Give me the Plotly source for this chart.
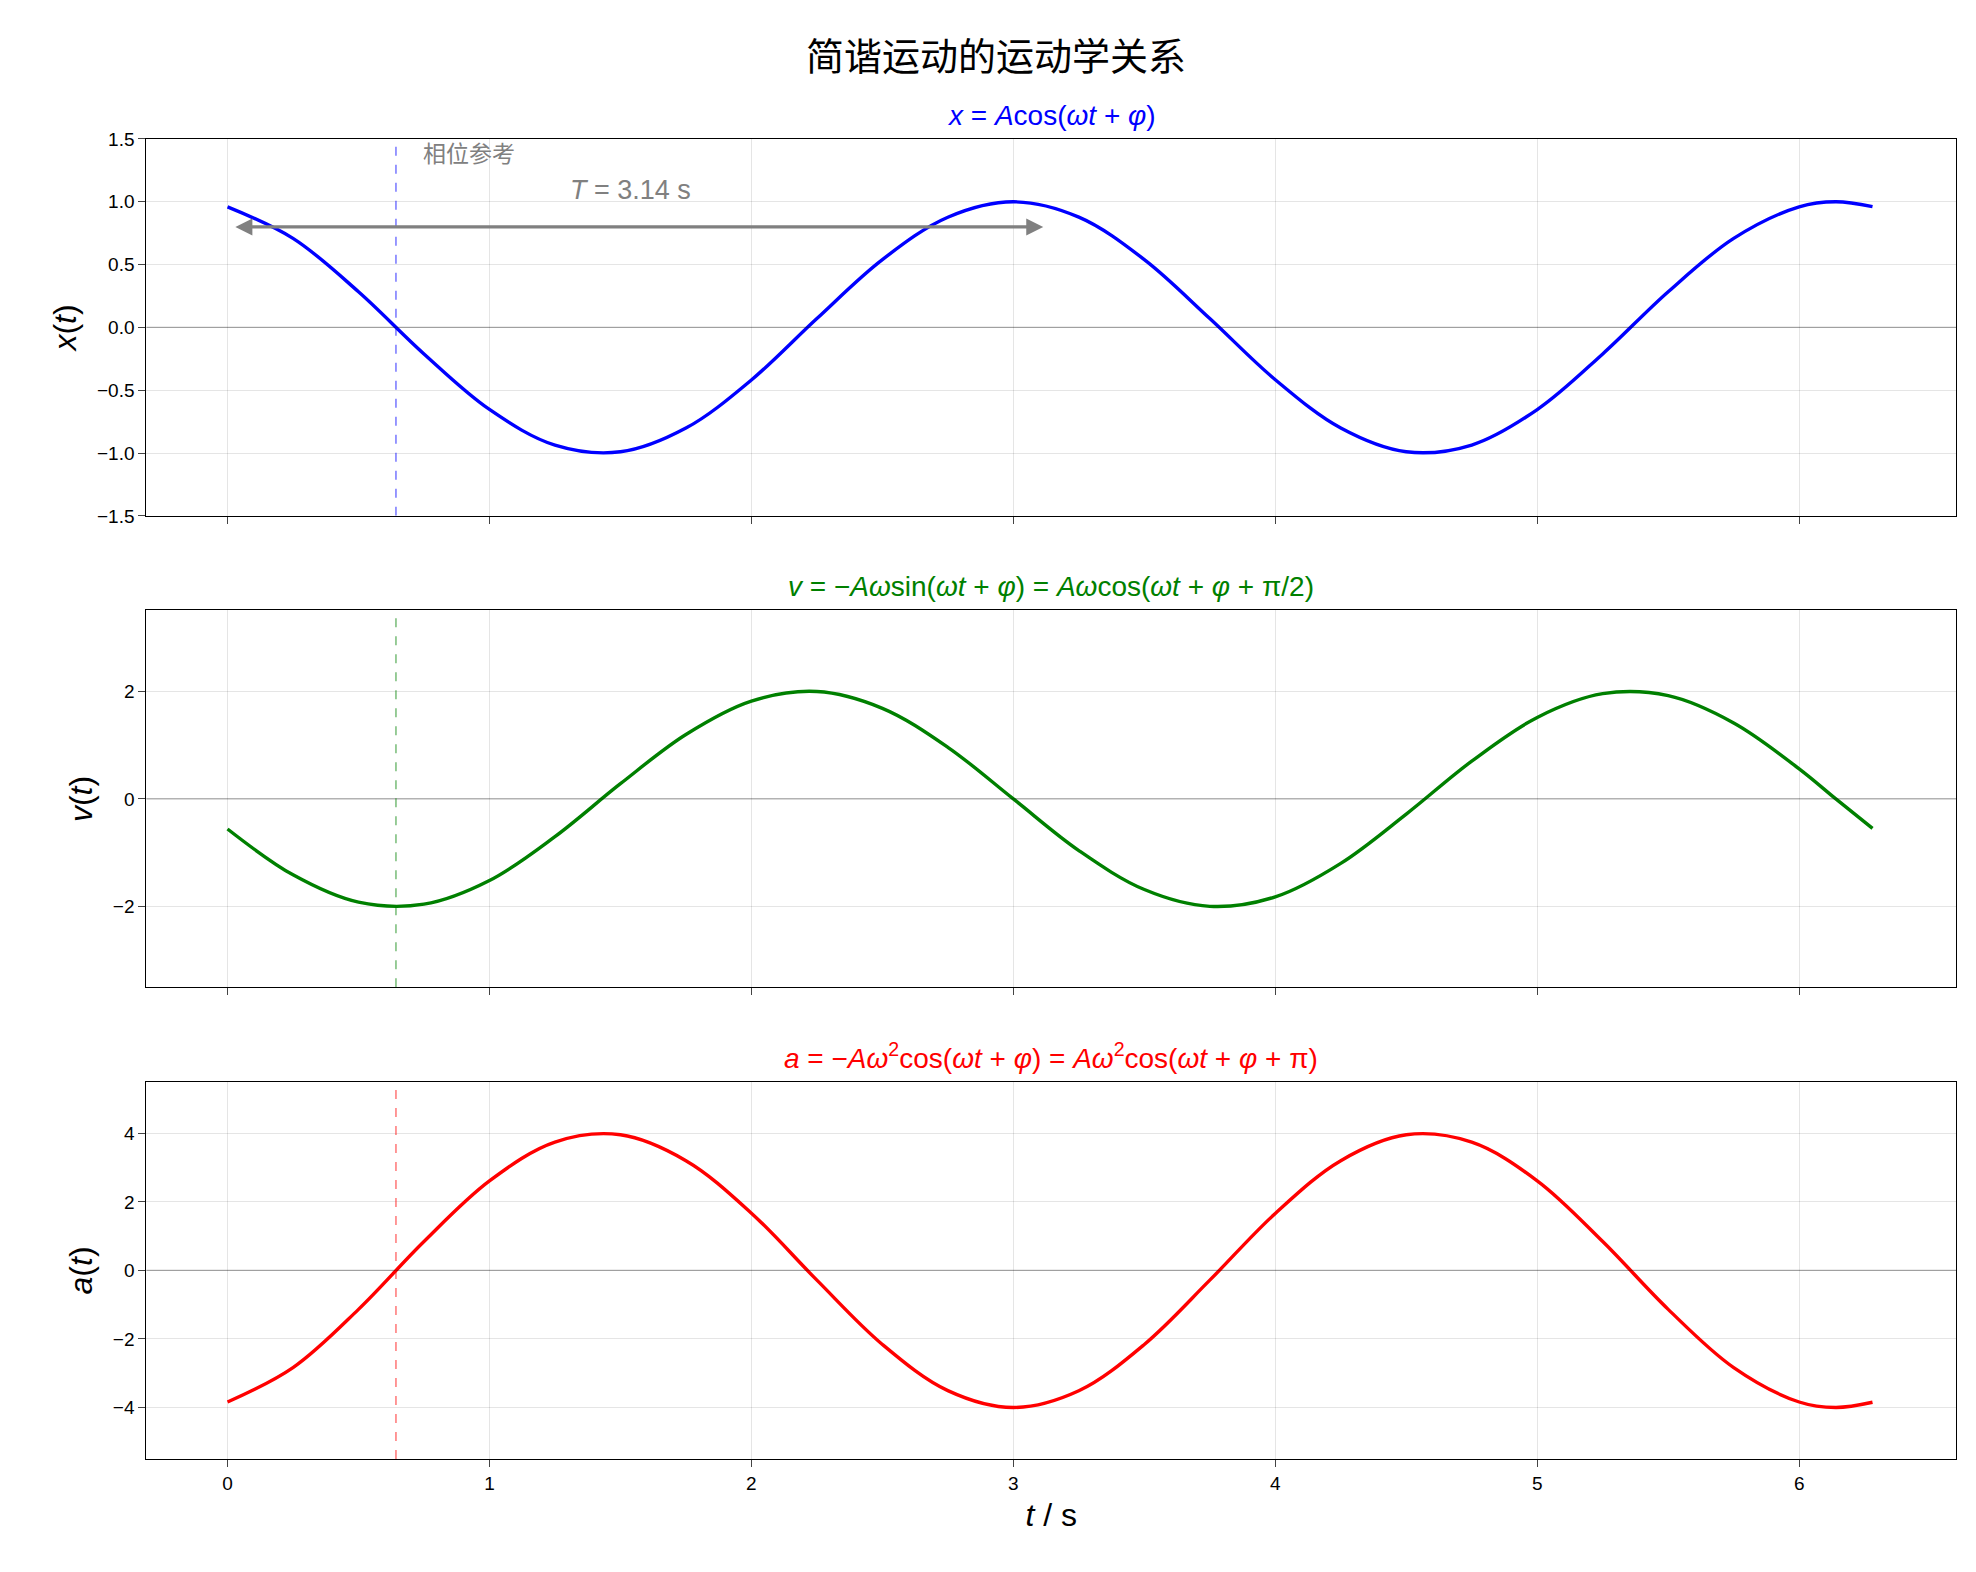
import plotly.graph_objects as go

t = [0, 0.25, 0.5, 0.75, 1.0, 1.25, 1.5, 1.75, 2.0, 2.25, 2.5, 2.75, 3.0, 3.25, 3.5,
     3.75, 4.0, 4.25, 4.5, 4.75, 5.0, 5.25, 5.5, 5.75, 6.0, 6.14, 6.28]
x_vals = [0.960, 0.709, 0.284, -0.211, -0.653, -0.937, -0.990, -0.801, -0.418, 0.071,
          0.540, 0.877, 1.000, 0.878, 0.540, 0.071, -0.416, -0.801, -0.990, -0.936,
          -0.654, -0.211, 0.284, 0.709, 0.960, 1.000, 0.962]
v_vals = [-0.558, -1.410, -1.918, -1.955, -1.515, -0.700, 0.283, 1.197, 1.817, 1.995,
          1.683, 0.959, 0.000, -0.959, -1.683, -1.995, -1.819, -1.197, -0.282, 0.702,
          1.514, 1.955, 1.918, 1.411, 0.559, 0.000, -0.547]
a_vals = [-3.840, -2.836, -1.136, 0.844, 2.612, 3.748, 3.960, 3.204, 1.672, -0.284,
          -2.160, -3.508, -4.000, -3.512, -2.160, -0.284, 1.664, 3.204, 3.960, 3.744,
          2.616, 0.844, -1.136, -2.836, -3.840, -4.000, -3.848]
t_phase = 0.643
x_ticks = [0, 1, 2, 3, 4, 5, 6]

W, H = 1976, 1572
fig = go.Figure()
doms = [(0.679, 0.922), (0.375, 0.618), (0.071, 0.314)]
series = [(x_vals, "blue", "rgba(0,0,255,0.45)", [-1.5, 1.5], [-1.5, -1, -0.5, 0, 0.5, 1, 1.5],
           "<i>x</i>(<i>t</i>)", "<i>x</i> = <i>A</i>cos(<i>ωt</i> + <i>φ</i>)"),
          (v_vals, "green", "rgba(0,128,0,0.45)", [-3.5, 3.5], [-2, 0, 2],
           "<i>v</i>(<i>t</i>)", "<i>v</i> = −<i>Aω</i>sin(<i>ωt</i> + <i>φ</i>) = <i>Aω</i>cos(<i>ωt</i> + <i>φ</i> + π/2)"),
          (a_vals, "red", "rgba(255,0,0,0.45)", [-5.5, 5.5], [-4, -2, 0, 2, 4],
           "<i>a</i>(<i>t</i>)", "<i>a</i> = −<i>Aω</i><sup>2</sup>cos(<i>ωt</i> + <i>φ</i>) = <i>Aω</i><sup>2</sup>cos(<i>ωt</i> + <i>φ</i> + π)")]
font = "Liberation Sans, DejaVu Sans, Noto Sans CJK SC"
for i, (ys, col, lcol, yr, yt, ylab, ttl) in enumerate(series):
    n = "" if i == 0 else str(i + 1)
    fig.add_trace(go.Scatter(x=t, y=ys, mode="lines", line=dict(color=col, width=3.4, shape="spline"),
                             xaxis="x" + n, yaxis="y" + n, showlegend=False))
    fig.update_layout(**{
        "xaxis" + n: dict(domain=[0.07, 0.986], range=[-0.31, 6.6], tickvals=x_ticks,
                          showticklabels=(i == 2), anchor="y" + n, showline=True, mirror=True,
                          linecolor="black", ticks="outside", ticklen=7, showgrid=True,
                          gridcolor="rgba(0,0,0,0.1)", zeroline=False, tickfont=dict(size=19),
                          title=dict(text="<i>t</i> / s", font=dict(size=32), standoff=10) if i == 2 else None),
        "yaxis" + n: dict(domain=list(doms[i]), range=yr, tickvals=yt, anchor="x" + n,
                          showline=True, mirror=True, linecolor="black", ticks="outside", ticklen=7,
                          gridcolor="rgba(0,0,0,0.1)", zeroline=False, tickfont=dict(size=19),
                          tickformat=".1f" if i == 0 else "d",
                          title=dict(text=ylab, font=dict(size=32), standoff=10)),
    })
    fig.add_shape(type="line", xref="x" + n, yref="y" + n, x0=-0.31, x1=6.6, y0=0, y1=0,
                  line=dict(color="rgba(0,0,0,0.3)", width=1.3))
    fig.add_shape(type="line", xref="x" + n, yref="y" + n, x0=t_phase, x1=t_phase, y0=yr[0], y1=yr[1],
                  line=dict(color=lcol, width=1.8, dash="dash"))
    fig.add_annotation(text=ttl, xref="paper", yref="paper", x=0.528, y=doms[i][1] + 0.004,
                       xanchor="center", yanchor="bottom", showarrow=False, font=dict(size=28, color=col))

fig.add_annotation(x=0.03, y=0.8, ax=3.12, ay=0.8, xref="x", yref="y", axref="x", ayref="y",
                   text="", showarrow=True, arrowhead=2, arrowside="end+start", arrowwidth=3.4,
                   arrowsize=1, arrowcolor="gray")
fig.add_annotation(x=1.3, y=1.09, xref="x", yref="y", text="<i>T</i> = 3.14 s", showarrow=False,
                   xanchor="left", font=dict(size=27, color="gray"))
fig.add_annotation(x=0.74, y=1.38, xref="x", yref="y", text="相位参考", showarrow=False,
                   xanchor="left", font=dict(size=23, color="gray"))
fig.add_annotation(text="简谐运动的运动学关系", xref="paper", yref="paper", x=0.5, y=0.975,
                   xanchor="center", yanchor="middle", showarrow=False, font=dict(size=38, color="black"))

fig.update_layout(width=W, height=H, margin=dict(l=0, r=0, t=0, b=0), plot_bgcolor="white",
                  paper_bgcolor="white", font=dict(family=font, color="black"))
fig.write_html("out.html")
